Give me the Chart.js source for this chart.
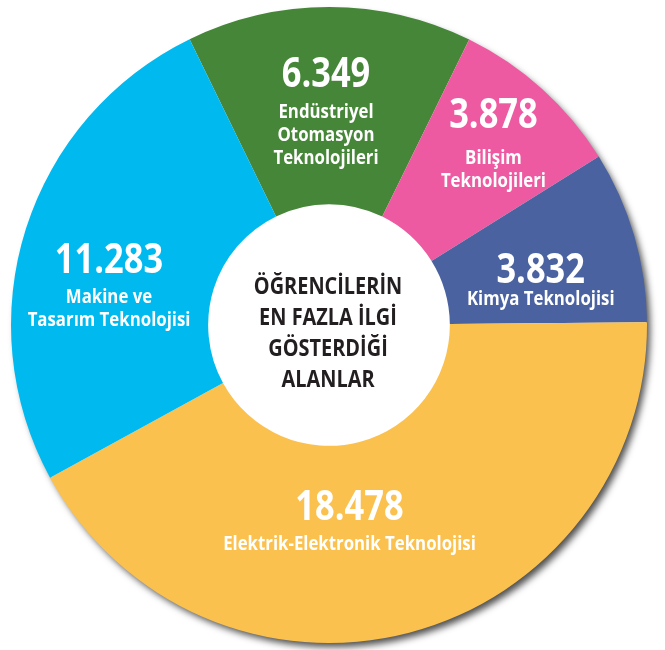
<!DOCTYPE html>
<html lang="tr">
<head>
<meta charset="utf-8">
<title>Öğrencilerin en fazla ilgi gösterdiği alanlar</title>
<script src="https://cdn.jsdelivr.net/npm/chart.js@4.4.1/dist/chart.umd.min.js"></script>
<style>
  html, body { margin: 0; padding: 0; background: #fff; }
  #wrap { width: 665px; height: 650px; position: relative; }
</style>
</head>
<body>
<div id="wrap"><canvas id="pie"></canvas></div>
<script>
// data
const categories = [
  ['Endüstriyel', 'Otomasyon', 'Teknolojileri'],
  ['Bilişim', 'Teknolojileri'],
  ['Kimya Teknolojisi'],
  ['Elektrik-Elektronik Teknolojisi'],
  ['Makine ve', 'Tasarım Teknolojisi']
];
const values = [6349, 3878, 3832, 18478, 11283];
const colors = ['#468638', '#ee5aa1', '#4a62a0', '#fbc14f', '#00b9ef'];
const centerTitle = ['ÖĞRENCİLERİN', 'EN FAZLA İLGİ', 'GÖSTERDİĞİ', 'ALANLAR'];

// where the text sits inside each slice
const labelRadius = [0.748, 0.808, 0.679, 0.616, 0.711];
const labelTurn = [-0.8, -2.3, 4.9, 8.6, -4.3];
const firstGap = [31, 36, 22, 30, 30];

const fontFam = "'Open Sans', 'DejaVu Sans Condensed', sans-serif";

const fmt = (v) => String(v).replace(/\B(?=(\d{3})+(?!\d))/g, '.');

// the original uses a condensed face, so squeeze the text sideways
const narrowText = (ctx, text, x, y, sx) => {
  ctx.save();
  ctx.translate(x, y);
  ctx.scale(sx, 1);
  ctx.fillText(text, 0, 0);
  ctx.restore();
};

const shadowDisc = {
  id: 'shadowDisc',
  beforeDatasetsDraw(chart) {
    const arc = chart.getDatasetMeta(0).data[0];
    if (!arc) return;
    const p = arc.getProps(['x', 'y', 'outerRadius'], true);
    const ctx = chart.ctx;
    ctx.save();
    ctx.shadowColor = 'rgba(0,0,0,0.7)';
    ctx.shadowBlur = 7;
    ctx.shadowOffsetX = 4;
    ctx.shadowOffsetY = 5;
    ctx.fillStyle = '#fff';
    ctx.beginPath();
    ctx.arc(p.x, p.y, p.outerRadius - 1, 0, Math.PI * 2);
    ctx.fill();
    ctx.restore();
  }
};

const sliceLabels = {
  id: 'sliceLabels',
  afterDatasetsDraw(chart) {
    const ctx = chart.ctx;
    const arcs = chart.getDatasetMeta(0).data;
    ctx.save();
    ctx.textAlign = 'center';
    ctx.textBaseline = 'alphabetic';
    ctx.fillStyle = '#ffffff';
    arcs.forEach((arc, i) => {
      const p = arc.getProps(['x', 'y', 'startAngle', 'endAngle', 'outerRadius'], true);
      const a = (p.startAngle + p.endAngle) / 2 + labelTurn[i] * Math.PI / 180;
      const r = p.outerRadius * labelRadius[i];
      const x = p.x + Math.cos(a) * r;
      const y = p.y + Math.sin(a) * r;
      ctx.font = 'bold 42px ' + fontFam;
      narrowText(ctx, fmt(values[i]), x, y, 0.82);
      ctx.font = 'bold 20px ' + fontFam;
      categories[i].forEach((line, j) => {
        narrowText(ctx, line, x, y + firstGap[i] + j * 23, 0.84);
      });
    });

    const c = arcs[0].getProps(['x', 'y'], true);
    ctx.fillStyle = '#231f20';
    ctx.font = 'bold 24px ' + fontFam;
    centerTitle.forEach((line, j) => {
      narrowText(ctx, line, c.x - 1, c.y - 31 + j * 31, 0.83);
    });
    ctx.restore();
  }
};

new Chart(document.getElementById('pie'), {
  type: 'doughnut',
  data: {
    labels: categories.map(l => l.join(' ')),
    datasets: [{
      data: values,
      backgroundColor: colors,
      borderWidth: 0
    }]
  },
  options: {
    responsive: true,
    maintainAspectRatio: false,
    animation: false,
    rotation: -26,
    cutout: '38%',
    layout: { padding: { left: 0, right: 7, top: 7, bottom: 7 } },
    plugins: {
      legend: { display: false },
      tooltip: { enabled: false }
    }
  },
  plugins: [shadowDisc, sliceLabels]
});
</script>
</body>
</html>
